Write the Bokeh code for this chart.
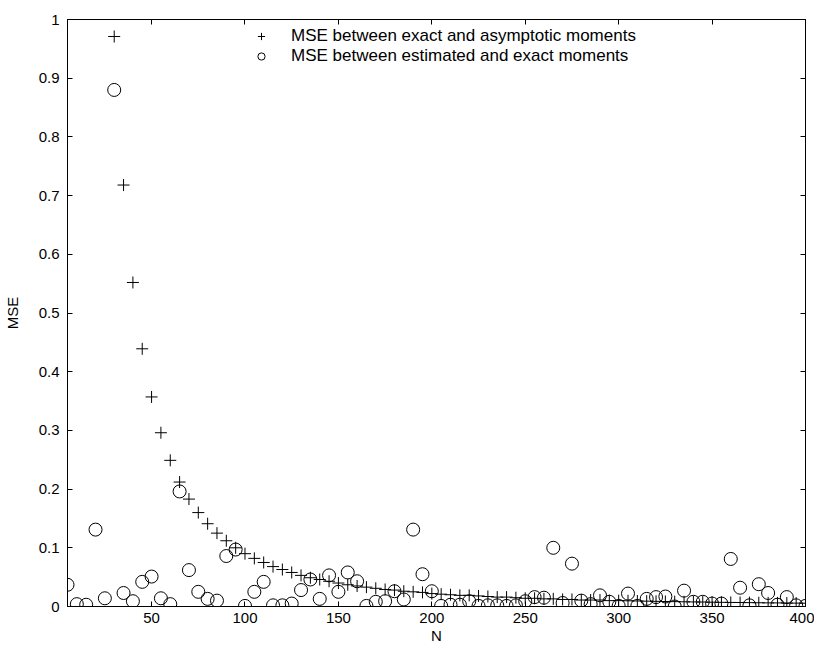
from bokeh.plotting import figure
from bokeh.models import LinearAxis, Range1d, FixedTicker, Legend, LegendItem, CustomJSTickFormatter
from bokeh.embed import file_html
from bokeh.resources import INLINE

# --- data ---
n_asym = list(range(30, 401, 5))
mse_asym = [0.971, 0.718, 0.552, 0.439, 0.357, 0.296, 0.249, 0.212, 0.183, 0.160,
            0.141, 0.125, 0.112, 0.100, 0.090, 0.082, 0.075, 0.068, 0.063, 0.058,
            0.053, 0.049, 0.046, 0.043, 0.040, 0.037, 0.035, 0.033, 0.031, 0.029,
            0.028, 0.026, 0.025, 0.024, 0.022, 0.021, 0.020, 0.019, 0.019, 0.018,
            0.017, 0.016, 0.016, 0.015, 0.014, 0.014, 0.013, 0.013, 0.012, 0.012,
            0.011, 0.011, 0.011, 0.010, 0.010, 0.0097, 0.0094, 0.0091, 0.0088, 0.0085,
            0.0083, 0.0080, 0.0078, 0.0076, 0.0073, 0.0071, 0.0069, 0.0068, 0.0066, 0.0064,
            0.0062, 0.0061, 0.0059, 0.0058, 0.0056]

n_est = list(range(5, 401, 5))
mse_est = [0.037, 0.004, 0.003, 0.131, 0.014, 0.880, 0.023, 0.009, 0.042, 0.051,
           0.014, 0.004, 0.196, 0.062, 0.025, 0.013, 0.010, 0.086, 0.097, 0.001,
           0.025, 0.042, 0.002, 0.002, 0.005, 0.028, 0.046, 0.013, 0.053, 0.025,
           0.058, 0.043, 0.001, 0.008, 0.009, 0.026, 0.012, 0.131, 0.055, 0.026,
           0.001, 0.003, 0.003, 0.009, 0.001, 0.002, 0.002, 0.001, 0.002, 0.009,
           0.016, 0.015, 0.100, 0.006, 0.073, 0.010, 0.004, 0.019, 0.008, 0.001,
           0.022, 0.001, 0.013, 0.016, 0.017, 0.000, 0.027, 0.008, 0.008, 0.005,
           0.005, 0.081, 0.032, 0.002, 0.038, 0.023, 0.003, 0.016, 0.002, 0.001]

x_ticks = [50, 100, 150, 200, 250, 300, 350, 400]
y_ticks = [0, 0.1, 0.2, 0.3, 0.4, 0.5, 0.6, 0.7, 0.8, 0.9, 1.0]
y_tick_labels = {0: "0", 0.1: "0.1", 0.2: "0.2", 0.3: "0.3", 0.4: "0.4", 0.5: "0.5",
                 0.6: "0.6", 0.7: "0.7", 0.8: "0.8", 0.9: "0.9", 1.0: "1"}

FONT = "Liberation Sans"

p = figure(width=814, height=648, output_backend="svg", toolbar_location=None,
           x_range=Range1d(5, 400), y_range=Range1d(0, 1),
           min_border_left=58, min_border_right=9, min_border_top=19, min_border_bottom=42,
           x_axis_label="N", y_axis_label="MSE")
p.grid.visible = False
p.outline_line_color = "black"
p.outline_line_width = 1
p.background_fill_color = "white"
p.border_fill_color = "white"

for ax in p.xaxis + p.yaxis:
    ax.major_tick_in = 5
    ax.major_tick_out = 0
    ax.minor_tick_line_color = None
    ax.axis_line_color = "black"
    ax.major_tick_line_color = "black"
    ax.major_label_text_font = FONT
    ax.major_label_text_font_size = "15px"
    ax.major_label_text_color = "black"
    ax.axis_label_text_font = FONT
    ax.axis_label_text_font_size = "15px"
    ax.axis_label_text_font_style = "normal"
    ax.axis_label_text_color = "black"

p.xaxis.ticker = FixedTicker(ticks=x_ticks)
p.yaxis.ticker = FixedTicker(ticks=y_ticks)
p.yaxis.major_label_overrides = y_tick_labels
p.xaxis.major_label_standoff = 6
p.yaxis.major_label_standoff = 8
p.xaxis.axis_label_standoff = 1
p.yaxis.axis_label_standoff = 15

blank = CustomJSTickFormatter(code="return ''")
top = LinearAxis(ticker=FixedTicker(ticks=x_ticks), major_tick_in=5, major_tick_out=0,
                 minor_tick_line_color=None, formatter=blank,
                 major_label_standoff=0, axis_line_color="black")
right = LinearAxis(ticker=FixedTicker(ticks=y_ticks), major_tick_in=5, major_tick_out=0,
                   minor_tick_line_color=None, formatter=blank,
                   major_label_standoff=0, axis_line_color="black")
p.add_layout(top, "above")
p.add_layout(right, "right")

r_est = p.scatter(n_est, mse_est, marker="circle", size=13, fill_color=None,
                  line_color="black", line_width=1)
r_asym = p.scatter(n_asym, mse_asym, marker="cross", size=12,
                   line_color="black", line_width=1)

legend = Legend(items=[
    LegendItem(label="MSE between exact and asymptotic moments", renderers=[r_asym]),
    LegendItem(label="MSE between estimated and exact moments", renderers=[r_est]),
], location=(184, 540))
legend.border_line_color = None
legend.background_fill_alpha = 0
legend.label_text_font = FONT
legend.label_text_font_size = "17px"
legend.label_text_color = "black"
legend.glyph_width = 20
legend.label_standoff = 20
legend.spacing = 0
legend.label_height = 18
legend.glyph_height = 18
legend.padding = 4
legend.margin = 0
p.add_layout(legend, "center")

open("out.html", "w").write(file_html(p, INLINE))
